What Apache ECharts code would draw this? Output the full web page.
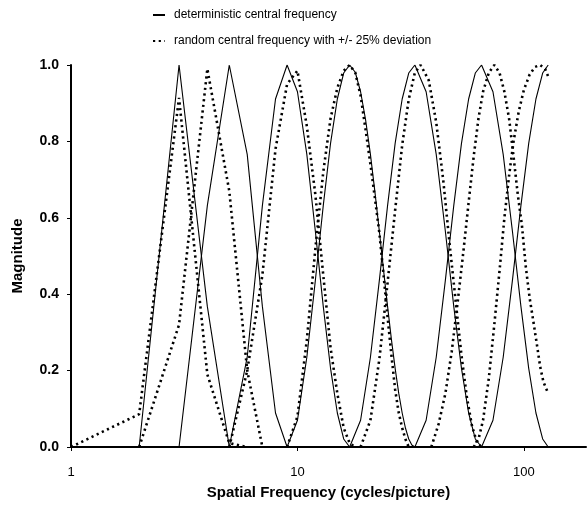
<!DOCTYPE html>
<html>
<head>
<meta charset="utf-8">
<script src="https://cdn.jsdelivr.net/npm/echarts@6/dist/echarts.min.js"></script>
<style>
html,body{margin:0;padding:0;background:#fff;}
#chart{width:587px;height:505px;}
</style>
</head>
<body>
<div id="chart"></div>
<script>
// Legend names
const nameDet = 'deterministic central frequency';
const nameRand = 'random central frequency with +/- 25% deviation';

// Deterministic filters: [frequency, magnitude]
const det1 = [[2,0],[3,1],[4,0.368],[5,0]];
const det2 = [[3,0],[4,0.632],[5,1],[6,0.766],[7,0.368],[8,0.089],[9,0]];
const det3 = [[5,0],[6,0.235],[7,0.632],[8,0.911],[9,1],[10,0.930],[11,0.766],[12,0.564],[13,0.368],[14,0.206],[15,0.089],[16,0.021],[17,0]];
const det4 = [[9,0],[10,0.070],[11,0.235],[12,0.437],[13,0.632],[14,0.795],[15,0.911],[16,0.979],[17,1],[18,0.981],[19,0.930],[20,0.856],[21,0.766],[22,0.666],[23,0.564],[24,0.463],[25,0.368],[26,0.281],[27,0.206],[28,0.141],[29,0.089],[30,0.049],[31,0.021],[32,0.005],[33,0]];
const det5 = [[17,0],[19,0.070],[21,0.235],[23,0.437],[25,0.632],[27,0.795],[29,0.911],[31,0.979],[33,1],[37,0.930],[41,0.766],[45,0.564],[49,0.368],[53,0.206],[57,0.089],[61,0.021],[65,0]];
const det6 = [[33,0],[37,0.070],[41,0.235],[45,0.437],[49,0.632],[53,0.795],[57,0.911],[61,0.979],[65,1],[73,0.930],[81,0.766],[89,0.564],[97,0.368],[105,0.206],[113,0.089],[121,0.021],[128,0]];
const det7 = [[65,0],[73,0.070],[81,0.235],[89,0.437],[97,0.632],[105,0.795],[113,0.911],[121,0.979],[128,1]];

// Random-centre filters: [frequency, magnitude]
const rnd1 = [[1,0],[2,0.086],[3,0.914],[4,0.19],[5,0.01],[6,0]];
const rnd2 = [[2,0],[3,0.32],[4,0.99],[5,0.67],[6,0.2],[7,0]];
const rnd3 = [[5,0],[6,0.2],[7,0.45],[8,0.78],[9,0.95],[10,0.985],[11,0.84],[12,0.66],[13,0.45],[14,0.26],[15,0.14],[16,0.05],[17,0.01],[18,0]];
const rnd4 = [[9,0],[10,0.08],[11,0.28],[12,0.52],[13,0.72],[14,0.86],[15,0.94],[16,0.985],[17,1],[18,0.98],[19,0.92],[20,0.83],[21,0.74],[22,0.65],[23,0.56],[24,0.45],[25,0.34],[26,0.24],[27,0.15],[28,0.09],[29,0.05],[30,0.02],[31,0]];
const rnd5 = [[19,0],[21,0.07],[23,0.23],[25,0.43],[27,0.62],[29,0.79],[31,0.91],[33,0.98],[35,1],[38,0.96],[41,0.85],[44,0.70],[47,0.53],[50,0.38],[53,0.24],[56,0.13],[59,0.055],[62,0.012],[65,0]];
const rnd6 = [[39,0],[42,0.06],[45,0.14],[48,0.25],[51,0.38],[54,0.51],[57,0.64],[60,0.76],[63,0.86],[66,0.93],[70,0.98],[74,1],[78,0.98],[82,0.93],[86,0.86],[90,0.76],[94,0.66],[98,0.58],[102,0.47],[106,0.39],[110,0.33],[114,0.27],[118,0.21],[122,0.17],[126,0.15],[128,0.14]];
const rnd7 = [[60,0],[63,0.02],[66,0.07],[70,0.18],[74,0.32],[78,0.46],[82,0.6],[86,0.71],[90,0.8],[95,0.88],[100,0.935],[106,0.975],[112,0.995],[118,1],[124,0.99],[128,0.97]];

// Tick labels
const xTickLabels = [1, 10, 100];
const yTicks = [0, 0.2, 0.4, 0.6, 0.8, 1.0];

const detSets = [det1, det2, det3, det4, det5, det6, det7];
const rndSets = [rnd1, rnd2, rnd3, rnd4, rnd5, rnd6, rnd7];

const FONT = '"Liberation Sans", Arial, sans-serif';

const series = [];
detSets.forEach(d => series.push({
  name: nameDet, type: 'line', data: d, symbol: 'none', smooth: false,
  lineStyle: { color: '#000', width: 1.1, type: 'solid' }, itemStyle: { color: '#000' },
  z: 3, silent: true, animation: false
}));
rndSets.forEach(d => series.push({
  name: nameRand, type: 'line', data: d, symbol: 'none', smooth: false,
  lineStyle: { color: '#000', width: 2.6, type: [2.2, 3.5] }, itemStyle: { color: '#000' },
  z: 2, silent: true, animation: false
}));

const chart = echarts.init(document.getElementById('chart'), null, { renderer: 'canvas' });
chart.setOption({
  backgroundColor: '#fff',
  animation: false,
  textStyle: { fontFamily: FONT },
  legend: {
    orient: 'vertical', left: 147, top: 4, itemGap: 14,
    itemWidth: 12, itemHeight: 8,
    data: [nameDet, nameRand],
    itemStyle: { opacity: 0 },
    textStyle: { fontFamily: FONT, fontSize: 12, color: '#000', padding: [0, 0, 0, 4] },
    selectedMode: false
  },
  grid: { left: 71, right: 1, top: 65, bottom: 57, containLabel: false },
  xAxis: {
    type: 'log', logBase: 10, min: 1, max: 188,
    name: 'Spatial Frequency (cycles/picture)', nameLocation: 'middle', nameGap: 38,
    nameTextStyle: { fontFamily: FONT, fontSize: 15, fontWeight: 'bold', color: '#000' },
    axisLine: { lineStyle: { color: '#000', width: 2 } },
    axisTick: { show: true, length: 4, lineStyle: { color: '#000', width: 1 } },
    minorTick: { show: false },
    splitLine: { show: false },
    axisLabel: {
      color: '#000', fontSize: 13, margin: 19, fontFamily: FONT,
      showMaxLabel: false,
      formatter: v => (xTickLabels.indexOf(Math.round(v)) >= 0 && Math.abs(v - Math.round(v)) < 1e-6) ? String(Math.round(v)) : ''
    }
  },
  yAxis: {
    type: 'value', min: 0, max: 1, interval: 0.2,
    name: 'Magnitude', nameLocation: 'middle', nameGap: 46,
    nameTextStyle: { fontFamily: FONT, fontSize: 15, fontWeight: 'bold', color: '#000' },
    axisLine: { show: true, lineStyle: { color: '#000', width: 2 } },
    axisTick: { show: true, length: 4, lineStyle: { color: '#000', width: 1 } },
    splitLine: { show: false },
    axisLabel: {
      color: '#000', fontSize: 14, fontWeight: 'bold', margin: 12, fontFamily: FONT,
      formatter: v => yTicks.some(t => Math.abs(t - v) < 1e-6) ? v.toFixed(1) : ''
    }
  },
  series: series
});
</script>
</body>
</html>
